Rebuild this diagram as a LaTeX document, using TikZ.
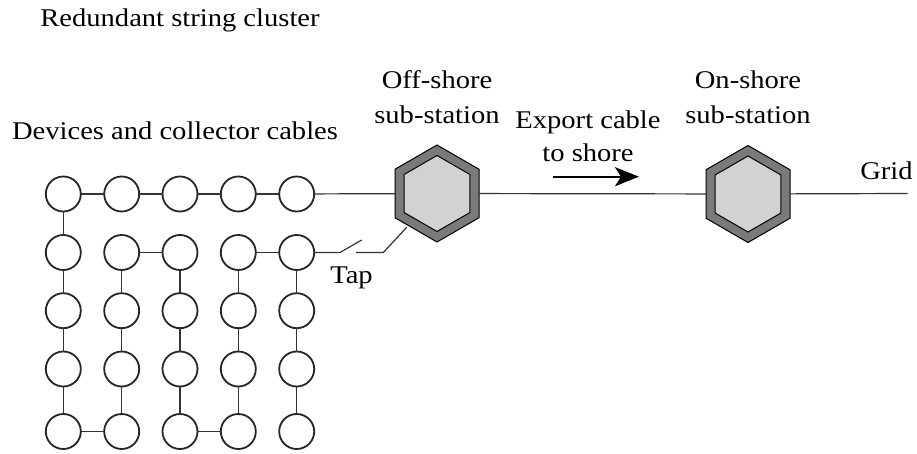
\documentclass[tikz,border=0pt]{standalone}
\usepackage{fontspec}
\setmainfont[FakeStretch=1.12]{Liberation Serif}
\usetikzlibrary{shapes.geometric,arrows.meta}

\definecolor{hexouter}{HTML}{7A7A7A}
\definecolor{hexinner}{HTML}{D2D2D2}

\tikzset{
  dev/.style={circle, draw=black!85, line width=1.8pt, fill=white,
              minimum size=35pt, inner sep=0pt, outer sep=0pt},
  cab/.style={line width=1.2pt, draw=black!80},
  label/.style={font=\fontsize{25.5}{30}\selectfont, inner sep=0pt, anchor=base},
  hexo/.style={regular polygon, regular polygon sides=6, shape border rotate=30,
               minimum size=97pt, inner sep=0pt, outer sep=0pt,
               draw=black, line width=1pt, fill=hexouter},
  hexi/.style={regular polygon, regular polygon sides=6, shape border rotate=30,
               minimum size=76pt, inner sep=0pt, outer sep=0pt,
               draw=black, line width=1pt, fill=hexinner},
}

\begin{document}
\begin{tikzpicture}[x=1pt, y=-1pt]
\useasboundingbox (0,0) rectangle (917,454);

% string devices, 5 x 5
\foreach \r/\y in {1/194, 2/252.5, 3/310.7, 4/369, 5/431.5} {
  \foreach \c/\x in {1/63.3, 2/121.7, 3/180, 4/238.3, 5/296.7} {
    \node[dev] (c\r\c) at (\x,\y) {};
  }
}

% sub-stations
\node[hexo] (off) at (437,193.5) {};
\node[hexi] (offi) at (437,193.5) {};
\node[hexo] (on) at (748,194) {};
\node[hexi] (oni) at (748,194) {};

% collector cables
\draw[cab] (c11) -- (c12) (c12) -- (c13) (c13) -- (c14) (c14) -- (c15);
\draw[cab] (c11) -- (c21) (c21) -- (c31) (c31) -- (c41) (c41) -- (c51);
\draw[cab] (c51) -- (c52) (c52) -- (c42) (c42) -- (c32) (c32) -- (c22);
\draw[cab] (c22) -- (c23) (c23) -- (c33) (c33) -- (c43) (c43) -- (c53);
\draw[cab] (c53) -- (c54) (c54) -- (c44) (c44) -- (c34) (c34) -- (c24);
\draw[cab] (c24) -- (c25) (c25) -- (c35) (c35) -- (c45) (c45) -- (c55);

% export line and grid connection
\coordinate (grid) at (907.5,193.5);
\draw[cab] (c15) -- (off);
\draw[cab] (off) -- (on);
\draw[cab] (on) -- (grid);

% tap with open switch
\coordinate (swa) at (340,252.5);
\coordinate (swb) at (361.7,240);
\coordinate (swc) at (356,252.5);
\coordinate (swd) at (383.3,252.5);
\coordinate (swe) at (406.7,227.3);
\draw[cab] (c25) -- (swa) -- (swb);
\draw[cab] (swc) -- (swd) -- (swe);

% direction of export
\coordinate (arra) at (553,176.7);
\coordinate (arrb) at (639,176.7);
\draw[line width=2pt, -{Stealth[length=24pt,width=19pt,inset=6pt]}] (arra) -- (arrb);

% labels
\node[label] (t1) at (180,27) {Redundant string cluster};
\node[label] (t2) at (175,139.3) {Devices and collector cables};
\node[label] (t3) at (437,88.3) {Off-shore};
\node[label] (t4) at (437,123.3) {sub-station};
\node[label] (t5) at (588,128.3) {Export cable};
\node[label] (t6) at (588,161.7) {to shore};
\node[label] (t7) at (748,88.3) {On-shore};
\node[label] (t8) at (748,123.3) {sub-station};
\node[label] (t9) at (886.5,180) {Grid};
\node[label] (t10) at (351.5,283.3) {Tap};
\end{tikzpicture}
\end{document}
